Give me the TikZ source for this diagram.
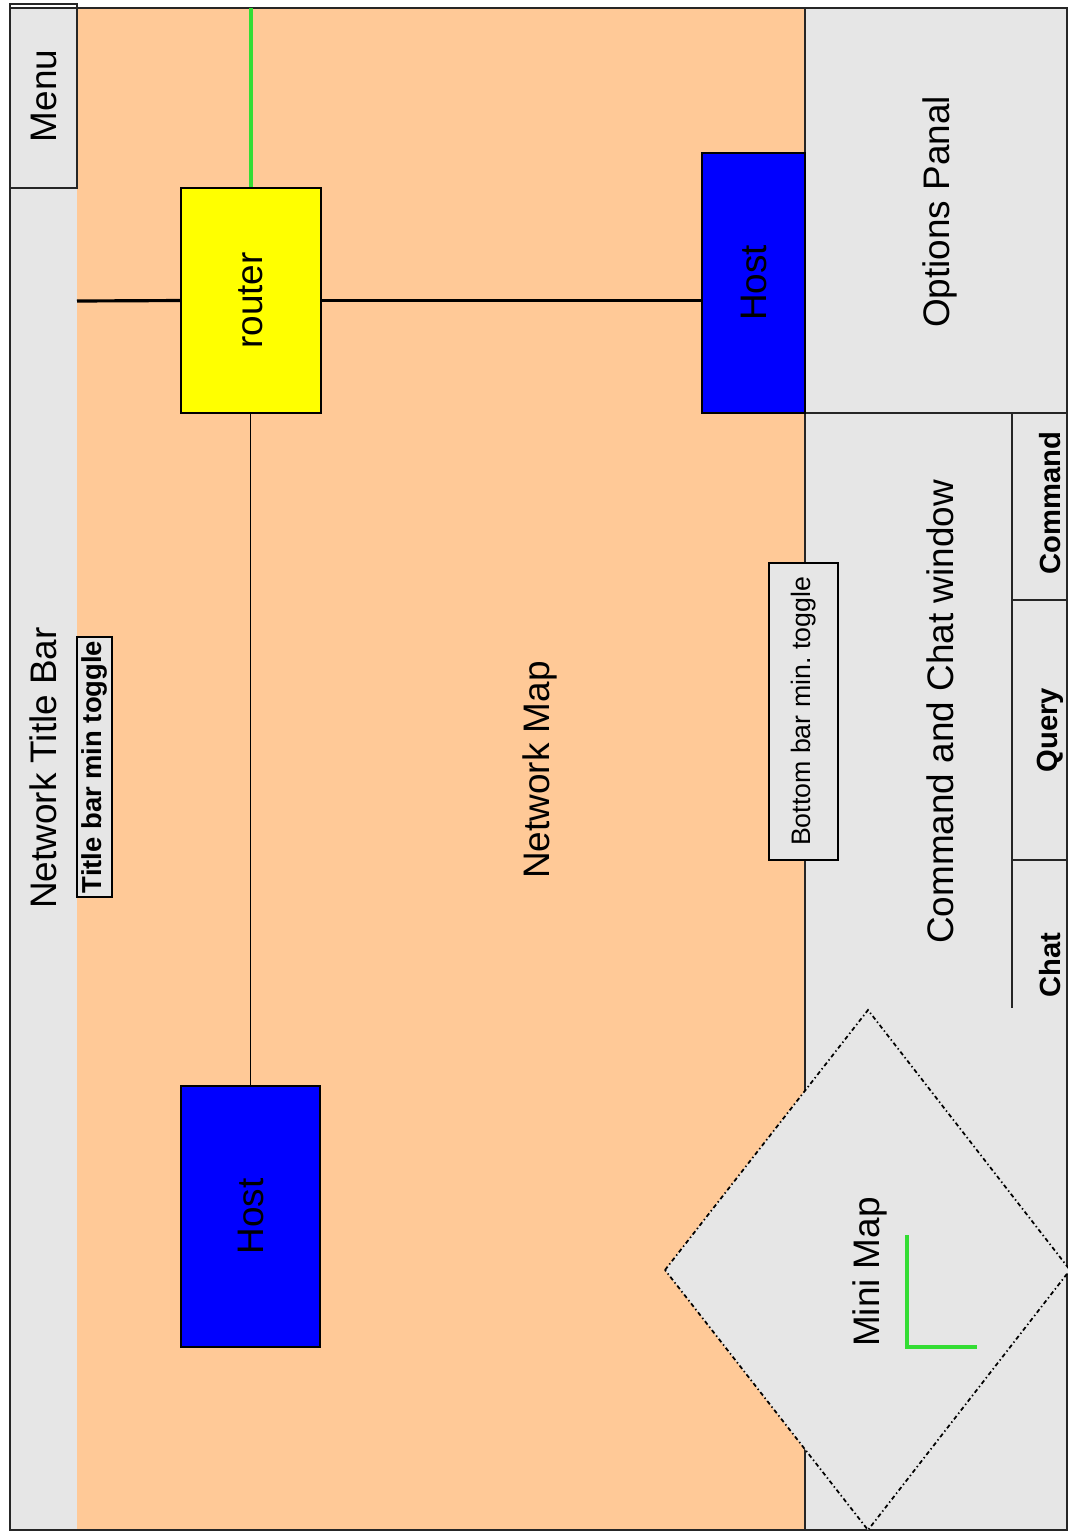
\documentclass[tikz,border=0pt]{standalone}
\usepackage{fontspec}
\setmainfont{Liberation Sans}
\usepackage{tikz}
\usetikzlibrary{positioning,calc}
\definecolor{mapbg}{HTML}{FFC997}
\definecolor{panelgray}{HTML}{E6E6E6}
\definecolor{routeryellow}{HTML}{FFFF00}
\definecolor{hostblue}{HTML}{0000FF}
\definecolor{linkgreen}{HTML}{33DD33}
\tikzset{
  device/.style={draw=black, line width=0.6pt, inner sep=0pt, align=center, font=\fontsize{10.5}{12}\selectfont},
  lbl/.style={inner sep=0pt, rotate=90, font=\fontsize{10.5}{12}\selectfont},
  tab/.style={inner sep=0pt, rotate=90, font=\fontsize{8.3}{10}\selectfont\bfseries},
  toggle/.style={draw=black, line width=0.6pt, fill=panelgray, inner sep=0pt},
  link/.style={line width=0.9pt, draw=black},
  frame/.style={line width=0.7pt, draw=black!85}
}

\begin{document}
\begin{tikzpicture}[x=0.01cm, y=-0.01cm]
  \useasboundingbox (0,0) rectangle (1068,1535);
  \fill[panelgray] (10,8) rectangle (77,1530);
  \fill[mapbg] (77,8) rectangle (805,1530);
  \fill[panelgray] (805,8) rectangle (1068,1530);

  \draw[frame] (10,4) rectangle (77,188);
  \draw[frame] (10,8) rectangle (1067,1530);
  \draw[frame] (805,8) -- (805,1530);
  \draw[frame] (805,413) -- (1068,413);
  \draw[frame] (1012,413) -- (1012,1008);
  \draw[frame] (1012,600) -- (1068,600);
  \draw[frame] (1012,860) -- (1068,860);

  \node[device, fill=routeryellow, minimum width=1.40cm, minimum height=2.25cm] (router) at (251,300.5) {\rotatebox{90}{router}};
  \node[device, fill=hostblue, minimum width=1.03cm, minimum height=2.60cm] (hosta) at (753.5,283) {\rotatebox{90}{Host}};
  \node[device, fill=hostblue, minimum width=1.39cm, minimum height=2.61cm] (hostb) at (250.5,1216.5) {\rotatebox{90}{Host}};
  \coordinate (uplink) at (251,8);
  \coordinate (mapedge) at (77,301);

  \draw[line width=1pt, draw=linkgreen] (router.north) -- (uplink);
  \draw[link] (mapedge) -- (router.west);
  \draw[link] (router.east) -- (router.east -| hosta.west);
  \draw[link, line width=0.5pt] (hostb.north) -- (hostb.north |- router.south);

  \node[toggle, minimum width=0.35cm, minimum height=2.60cm] (titletoggle) at (94.5,767) {};
  \node[inner sep=0pt, rotate=90, font=\fontsize{7.8}{9}\selectfont\bfseries] (titletoggletext) at (titletoggle) {Title bar min toggle};
  \node[toggle, minimum width=0.69cm, minimum height=2.97cm] (bottomtoggle) at (803.5,711.5) {};
  \node[inner sep=0pt, rotate=90, font=\fontsize{7.6}{9}\selectfont] (bottomtoggletext) at (bottomtoggle) {Bottom bar min.\ toggle};

  \draw[fill=panelgray, line width=0.5pt, dash pattern=on 1.2pt off 0.8pt on 0.4pt off 0.8pt] (665,1270) -- (868,1010) -- (1070,1270) -- (868,1530) -- cycle;
  \draw[line width=1pt, draw=linkgreen] (907,1235) -- (907,1347) -- (977,1347);

  \node[lbl] (menu) at (43.5,96) {Menu};
  \node[lbl] (titlebar) at (43,768) {Network Title Bar};
  \node[lbl] (netmap) at (540,770) {Network Map};
  \node[lbl] (options) at (940,212) {Options Panal};
  \node[lbl] (chatwin) at (940,712) {Command and Chat window};
  \node[lbl] (minimap) at (870,1272) {Mini Map};
  \node[tab] (cmdtab) at (1050,503) {Command};
  \node[tab] (querytab) at (1050,730) {Query};
  \node[tab] (chattab) at (1050,965) {Chat};
\end{tikzpicture}
\end{document}
